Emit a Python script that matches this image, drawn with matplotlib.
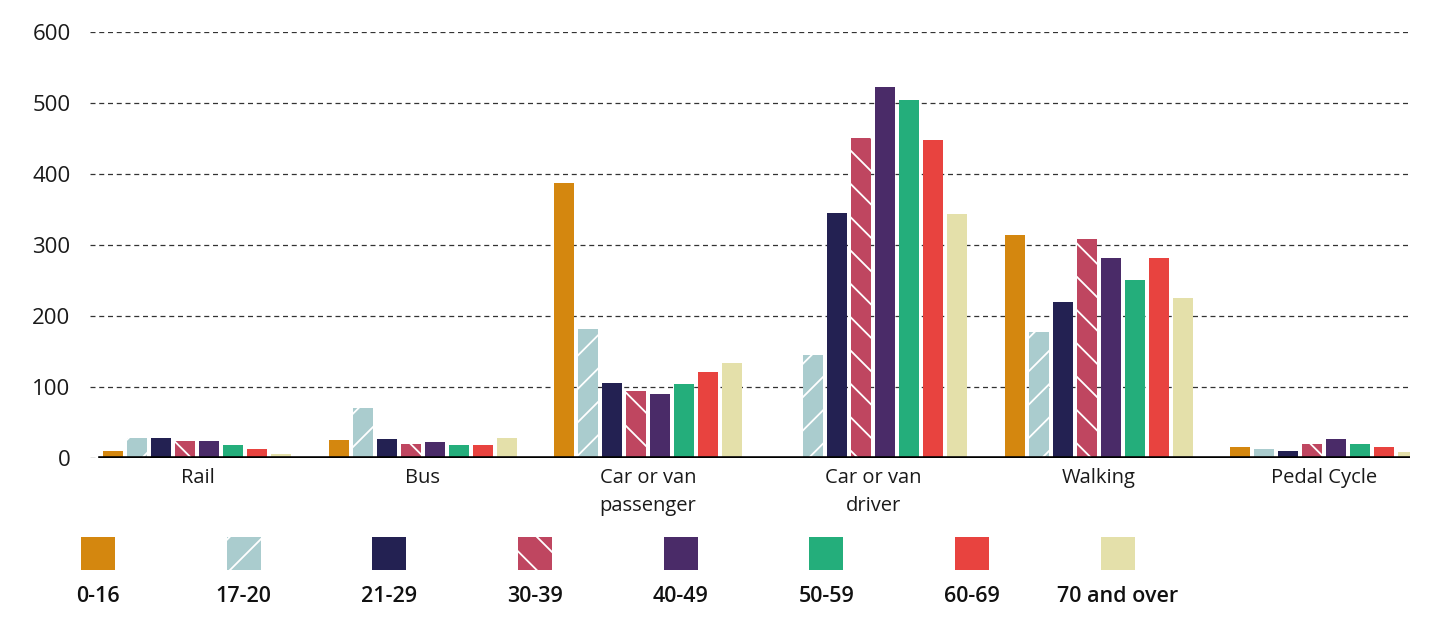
import matplotlib
matplotlib.use("Agg")
import matplotlib.pyplot as plt
import numpy as np

plt.rcParams['font.family'] = ['Open Sans', 'DejaVu Sans']
plt.rcParams['hatch.linewidth'] = 1.3

# Data (trips per person per year)
modes = ['Rail', 'Bus', 'Car or van\npassenger', 'Car or van\ndriver', 'Walking', 'Pedal Cycle']
age_groups = ['0-16', '17-20', '21-29', '30-39', '40-49', '50-59', '60-69', '70 and over']

age_0_16 = [10, 26, 387, 0, 314, 16]
age_17_20 = [28, 70, 182, 145, 177, 12]
age_21_29 = [28, 27, 106, 345, 220, 10]
age_30_39 = [24, 20, 94, 451, 308, 20]
age_40_49 = [24, 23, 90, 523, 282, 27]
age_50_59 = [19, 19, 104, 504, 251, 20]
age_60_69 = [12, 19, 121, 448, 282, 16]
age_70_over = [5, 28, 134, 344, 225, 9]

series = [age_0_16, age_17_20, age_21_29, age_30_39,
          age_40_49, age_50_59, age_60_69, age_70_over]
colors = ['#D4870F', '#AACCCE', '#232152', '#BF4660',
          '#4A2B68', '#24AE7B', '#E8433F', '#E4E0AA']
hatches = [None, '/', None, '\\', None, None, None, None]

W, H = 1445, 619
fig = plt.figure(figsize=(W / 100, H / 100), dpi=100)

# main axes, positioned in pixels
ax = fig.add_axes([90 / W, (H - 458) / H, 1320 / W, 426 / H])

x = np.arange(len(modes))
step = 0.1065
width = 0.0888
for i, vals in enumerate(series):
    offs = (i - 3.5) * step
    ax.bar(x + offs, vals, width=width, color=colors[i], hatch=hatches[i],
           edgecolor='white' if hatches[i] else colors[i],
           linewidth=0, zorder=3)

ax.set_xlim(-0.477, 5.382)
ax.set_ylim(0, 600)
ax.set_yticks(range(0, 601, 100))
ax.yaxis.grid(True, linestyle=(0, (4, 3)), color='#333333', linewidth=0.9, zorder=0)
ax.set_axisbelow(True)

for s in ax.spines.values():
    s.set_visible(False)
ax.axhline(0, xmin=10 / 1320, xmax=1, color='black', linewidth=2.6, zorder=4)

ax.set_xticks(x)
ax.set_xticklabels(modes, fontsize=14.5, color='#1a1a1a', linespacing=1.55)
ax.tick_params(axis='x', length=0, pad=7)
ax.tick_params(axis='y', length=0, pad=14, labelsize=16, labelcolor='#1a1a1a')

# legend: swatch above label, in its own axes
lax = fig.add_axes([25 / W, (H - 615) / H, (8 * 145.7) / W, 85 / H])
lax.set_xlim(-0.5, 7.5)
lax.set_ylim(0, 1)
lax.axis('off')
for i, lab in enumerate(age_groups):
    lax.bar(i, 0.388, bottom=0.53, width=0.233, color=colors[i], hatch=hatches[i],
            edgecolor='white' if hatches[i] else colors[i], linewidth=0)
    lax.text(i, 0.22, lab, ha='center', va='center', fontsize=15.5,
             fontweight='semibold', color='#111111')

fig.savefig('out.png', dpi=100)
